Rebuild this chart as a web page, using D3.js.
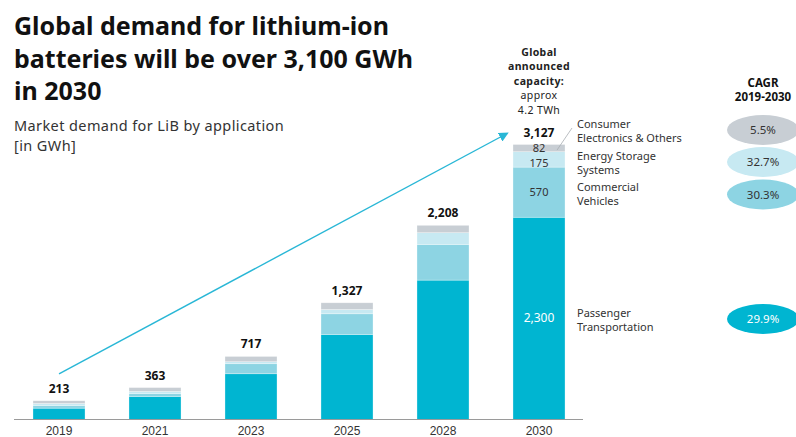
<!DOCTYPE html>
<html>
<head>
<meta charset="utf-8">
<script src="https://cdn.jsdelivr.net/npm/d3@7"></script>
<style>
  body { margin: 0; background: #fff; }
  svg { font-family: "Noto Sans", sans-serif; display: block; }
  .title { font-size: 25px; font-weight: 700; fill: #111; }
  .sub { font-size: 14.5px; fill: #333; letter-spacing: 0.4px; }
  .yr { font-size: 12px; fill: #333; }
  .tot { font-size: 12px; font-weight: 700; fill: #111; }
  .lg { font-size: 11px; fill: #333; }
  .cap { font-size: 10.5px; fill: #222; letter-spacing: 0.4px; }
</style>
</head>
<body>
<svg id="chart" width="796" height="437"></svg>
<script>
// CHART DATA
var years = ["2019", "2021", "2023", "2025", "2028", "2030"];
var totals = [213, 363, 717, 1327, 2208, 3127];
var passenger = [129, 262, 520, 967, 1585, 2300];
var commercial = [30, 31, 114, 235, 406, 570];
var energy = [23, 26, 23, 49, 133, 175];
var consumer = [31, 44, 60, 76, 84, 82];

var segNames = ["Passenger Transportation", "Commercial Vehicles", "Energy Storage Systems", "Consumer Electronics & Others"];
var segColors = ["#00b5d1", "#8dd4e3", "#c7e9f2", "#c8ced4"];
var cagr = ["29.9%", "30.3%", "32.7%", "5.5%"];

// DRAWING AREA
var svg = d3.select("#chart");
var baseY = 419.5;

var x = d3.scaleBand()
    .domain(years)
    .range([11, 587])
    .paddingInner(0.458)
    .paddingOuter(0.229);

var y = d3.scaleLinear()
    .domain([0, 3127])
    .range([baseY, 144.5]);

// stack the series
var rows = years.map(function(yr, i) {
    return { year: yr, p: passenger[i], c: commercial[i], e: energy[i], o: consumer[i] };
});
var stack = d3.stack().keys(["p", "c", "e", "o"]);
var series = stack(rows);

svg.append("g")
  .selectAll("g")
  .data(series)
  .enter()
  .append("g")
  .attr("fill", function(d, i) { return segColors[i]; })
  .selectAll("rect")
  .data(function(d) { return d; })
  .enter()
  .append("rect")
  .attr("x", function(d) { return x(d.data.year); })
  .attr("width", x.bandwidth())
  .attr("y", function(d) { return y(d[1]); })
  .attr("height", function(d) { return y(d[0]) - y(d[1]); })
  .attr("stroke", "#fff")
  .attr("stroke-opacity", 0.5)
  .attr("stroke-width", 0.6);

// AXIS
var xAxis = d3.axisBottom(x).tickSize(0).tickPadding(7);
var ax = svg.append("g")
  .attr("transform", "translate(0," + baseY + ")")
  .call(xAxis);
ax.select(".domain").attr("stroke", "#9a9a9a").attr("stroke-width", 1.2).attr("d", "M14,0H583");
ax.selectAll("text").attr("class", "yr").attr("font-family", null).attr("font-size", null);

// TOTALS ON TOP
svg.selectAll(".tot")
  .data(totals)
  .enter()
  .append("text")
  .attr("class", "tot")
  .attr("text-anchor", "middle")
  .attr("x", function(d, i) { return x(years[i]) + x.bandwidth() / 2; })
  .attr("y", function(d) { return y(d) - 8; })
  .text(function(d) { return d3.format(",")(d); });

// TREND ARROW
svg.append("defs").append("marker")
  .attr("id", "arr")
  .attr("viewBox", "0 0 10 10")
  .attr("refX", 8).attr("refY", 5)
  .attr("markerWidth", 7).attr("markerHeight", 7)
  .attr("orient", "auto")
  .append("path")
  .attr("d", "M0,0L10,5L0,10z")
  .attr("fill", "#29b7d6");

svg.append("line")
  .attr("x1", x("2019") + x.bandwidth() / 2)
  .attr("y1", y(totals[0]) - 27)
  .attr("x2", x("2030") - 6)
  .attr("y2", y(totals[5]) - 11)
  .attr("stroke", "#29b7d6")
  .attr("stroke-width", 1.4)
  .attr("marker-end", "url(#arr)");

// VALUES INSIDE 2030 BAR
var last = years.length - 1;
var cx = x("2030") + x.bandwidth() / 2;
var innerNudge = [0, 0, 3.5, -0.3];
series.forEach(function(s, i) {
    var d = s[last];
    svg.append("text")
      .attr("text-anchor", "middle")
      .attr("x", cx)
      .attr("y", (y(d[0]) + y(d[1])) / 2 + 4 + innerNudge[i])
      .style("fill", i === 0 ? "#fff" : "#333")
      .style("font-size", i === 0 ? "12px" : "11px")
      .text(d3.format(",")(d[1] - d[0]));
});

// LEGEND LABELS
var legendX = 577;
var legendLines = [
    ["Passenger", "Transportation"],
    ["Commercial", "Vehicles"],
    ["Energy Storage", "Systems"],
    ["Consumer", "Electronics & Others"]
];
var legendMid = [320, 194, 163, 131];

legendLines.forEach(function(lines, i) {
    var t = svg.append("text").attr("class", "lg");
    lines.forEach(function(l, j) {
        t.append("tspan")
          .attr("x", legendX)
          .attr("y", legendMid[i] - 3 + j * 14)
          .text(l);
    });
});

// leader line for consumer electronics
svg.append("line")
  .attr("x1", 572).attr("y1", 128)
  .attr("x2", cx + 18).attr("y2", (y(totals[5]) + y(totals[5] - consumer[5])) / 2 + 2)
  .attr("stroke", "#a8adb2")
  .attr("stroke-width", 0.8);

// CAGR ELLIPSES
var ellX = 763;
svg.append("text").attr("class", "tot").attr("text-anchor", "middle")
  .style("font-size", "11.5px")
  .attr("x", ellX).attr("y", 87).text("CAGR");
svg.append("text").attr("class", "tot").attr("text-anchor", "middle")
  .style("font-size", "11.5px")
  .attr("x", ellX).attr("y", 101).text("2019-2030");

var ellMid = [319, 194.5, 162, 130];
cagr.forEach(function(v, i) {
    svg.append("ellipse")
      .attr("cx", ellX).attr("cy", ellMid[i])
      .attr("rx", 36).attr("ry", 15)
      .attr("fill", segColors[i]);
    svg.append("text")
      .attr("text-anchor", "middle")
      .attr("x", ellX).attr("y", ellMid[i] + 4)
      .style("fill", i === 0 ? "#fff" : "#333")
      .style("font-size", "11.5px")
      .text(v);
});

// GLOBAL ANNOUNCED CAPACITY NOTE
var capLines = [["Global", true], ["announced", true], ["capacity:", true], ["approx", false], ["4.2 TWh", false]];
capLines.forEach(function(c, i) {
    svg.append("text")
      .attr("class", "cap")
      .attr("text-anchor", "middle")
      .attr("x", cx)
      .attr("y", 56 + i * 14.4)
      .style("font-weight", c[1] ? 700 : 400)
      .text(c[0]);
});

// TITLE
var titleLines = ["Global demand for lithium-ion", "batteries will be over 3,100 GWh", "in 2030"];
titleLines.forEach(function(l, i) {
    svg.append("text")
      .attr("class", "title")
      .attr("x", 14)
      .attr("y", 35 + i * 32.5)
      .text(l);
});
svg.append("text").attr("class", "sub").attr("x", 14).attr("y", 131).text("Market demand for LiB by application");
svg.append("text").attr("class", "sub").attr("x", 14).attr("y", 151).text("[in GWh]");
</script>
</body>
</html>
